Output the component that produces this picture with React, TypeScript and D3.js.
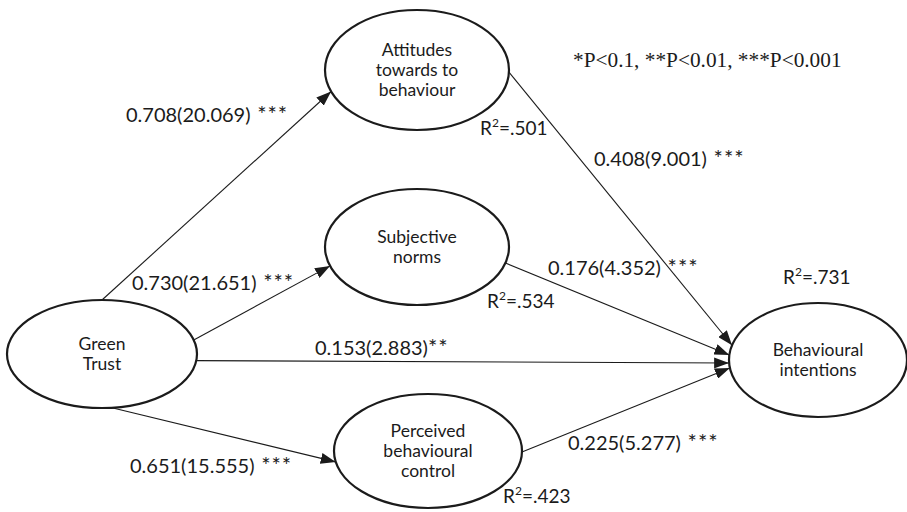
import * as d3 from "d3";

// ---- data ----
const nodeIds = ["GT", "ATT", "SN", "PBC", "BI"];
const nodeLabels = [
  ["Green", "Trust"],
  ["Attitudes", "towards to", "behaviour"],
  ["Subjective", "norms"],
  ["Perceived", "behavioural", "control"],
  ["Behavioural", "intentions"],
];
const pathFrom = ["GT", "GT", "GT", "GT", "ATT", "SN", "PBC"];
const pathTo = ["ATT", "SN", "BI", "PBC", "BI", "BI", "BI"];
const pathCoef = ["0.708", "0.730", "0.153", "0.651", "0.408", "0.176", "0.225"];
const pathT = ["20.069", "21.651", "2.883", "15.555", "9.001", "4.352", "5.277"];
const pathStars = [" ***", " ***", "**", " ***", " ***", " ***", " ***"];
const r2Nodes = ["ATT", "SN", "PBC", "BI"];
const r2Values = [".501", ".534", ".423", ".731"];
const noteText = "*P<0.1, **P<0.01, ***P<0.001";

// ---- layout (ellipse geometry, anchor angles in degrees, label spots) ----
const ellipses: Record<string, { cx: number; cy: number; rx: number; ry: number }> = {
  GT: { cx: 102, cy: 354, rx: 95, ry: 54 },
  ATT: { cx: 417, cy: 70, rx: 92, ry: 60 },
  SN: { cx: 417, cy: 247, rx: 92, ry: 58 },
  PBC: { cx: 428, cy: 451, rx: 94, ry: 57 },
  BI: { cx: 818, cy: 360, rx: 89, ry: 57 },
};
const anchorFrom = [-90, -15, 7, 84, 2, 16, 1];
const anchorTo = [159, 161, 177, 169, 195, 185, 172];
const coefPos = [
  [126, 122],
  [132, 290],
  [315, 355],
  [130, 473],
  [594, 166],
  [548, 275],
  [568, 450],
];
const r2Pos = [
  [480, 135],
  [487, 308],
  [503, 503],
  [783, 284],
];

const font = "Lato, 'Open Sans', sans-serif";
const ink = "#1b1b1b";

function onEllipse(id: string, deg: number): [number, number] {
  const e = ellipses[id];
  const a = (deg * Math.PI) / 180;
  return [e.cx + e.rx * Math.cos(a), e.cy + e.ry * Math.sin(a)];
}

export default function App() {
  const line = d3.line<[number, number]>();

  return (
    <svg
      width={907}
      height={512}
      viewBox="0 0 907 512"
      style={{ position: "absolute", left: 0, top: 0, background: "#fff" }}
    >
      <defs>
        <marker
          id="arrow"
          viewBox="0 0 15 11"
          refX={15}
          refY={5.5}
          markerWidth={15}
          markerHeight={11}
          markerUnits="userSpaceOnUse"
          orient="auto"
        >
          <path d="M0,0 L15,5.5 L0,11 Z" fill={ink} />
        </marker>
      </defs>

      {/* Paths */}
      {pathFrom.map((f, i) => {
        const p0 = onEllipse(f, anchorFrom[i]);
        const p1 = onEllipse(pathTo[i], anchorTo[i]);
        return (
          <path
            key={"p" + i}
            d={line([p0, p1]) ?? ""}
            stroke={ink}
            strokeWidth={1.1}
            fill="none"
            markerEnd="url(#arrow)"
          />
        );
      })}

      {/* Constructs */}
      {nodeIds.map((id, i) => {
        const e = ellipses[id];
        const lines = nodeLabels[i];
        const lh = 20;
        const y0 = e.cy - ((lines.length - 1) * lh) / 2 + 6;
        return (
          <g key={id}>
            <ellipse cx={e.cx} cy={e.cy} rx={e.rx} ry={e.ry} fill="#fff" stroke={ink} strokeWidth={2.2} />
            <text textAnchor="middle" fontFamily={font} fontSize={17.5} fill={ink}>
              {lines.map((t, j) => (
                <tspan key={j} x={e.cx} y={y0 + j * lh}>
                  {t}
                </tspan>
              ))}
            </text>
          </g>
        );
      })}

      {/* Coefficients */}
      {pathCoef.map((c, i) => (
        <text
          key={"c" + i}
          x={coefPos[i][0]}
          y={coefPos[i][1]}
          fontFamily={font}
          fontSize={20}
          fill={ink}
        >
          {`${c}(${pathT[i]})`}
          <tspan fontSize={22} letterSpacing={1}>
            {pathStars[i]}
          </tspan>
        </text>
      ))}

      {/* R squared */}
      {r2Nodes.map((id, i) => (
        <text key={"r" + id} x={r2Pos[i][0]} y={r2Pos[i][1]} fontFamily={font} fontSize={19} fill={ink}>
          R
          <tspan fontSize={12} dy={-8}>
            2
          </tspan>
          <tspan dy={8}>={r2Values[i]}</tspan>
        </text>
      ))}

      <text x={573} y={67} fontFamily="'Liberation Serif', 'DejaVu Serif', serif" fontSize={21.3} fill={ink}>
        {noteText}
      </text>
    </svg>
  );
}
